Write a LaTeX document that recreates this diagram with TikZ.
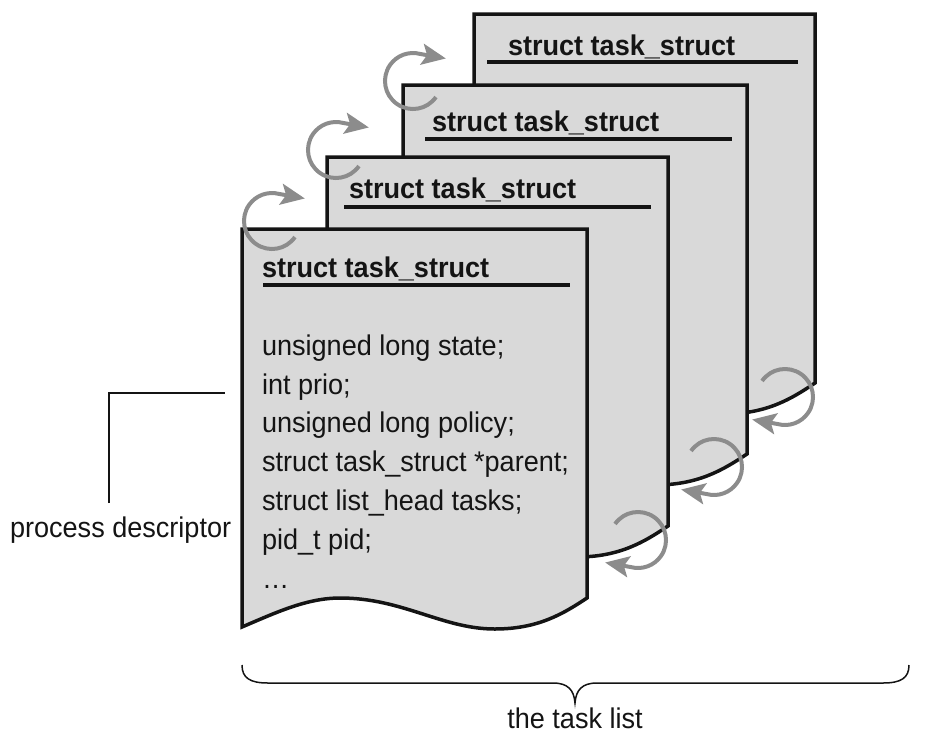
\documentclass[tikz,border=0pt]{standalone}
\usepackage{fontspec}
\setmainfont{Liberation Sans}[FakeStretch=0.95]
\usetikzlibrary{arrows.meta,calc}
\definecolor{pagefill}{HTML}{D9D9D9}
\definecolor{arrowgray}{HTML}{8C8C8C}
\definecolor{ink}{HTML}{141414}
\begin{document}
\begin{tikzpicture}[x=1pt,y=1pt,
  txt/.style={font=\fontsize{28.5}{34}\selectfont, inner sep=0pt, outer sep=0pt, text=ink, anchor=base west},
  ttl/.style={txt, font=\fontsize{28.5}{34}\selectfont\bfseries},
  pagebox/.style={draw=ink, fill=pagefill, line width=3.5pt},
  uline/.style={draw=ink, line width=3.5pt},
  cyc/.style={draw=arrowgray, line width=4pt, -{Stealth[length=24pt,width=21pt,inset=5pt]}},
  thinline/.style={draw=ink, line width=1.5pt}]
\useasboundingbox (0,0) rectangle (930,-740);

% pages, back to front
\foreach \n/\pL/\pT/\pW/\tX/\tY/\uA/\uB/\uY in {4/474/14/341/508/55/487/798/62, 3/403/85/344/432/131/425/732/139, 2/327/157/341/349/198/344/651/207, 1/242/229/345/262/277/263/570/285}{
  \pgfmathsetmacro{\sc}{\pW/344}
  \coordinate (tl\n) at (\pL,-\pT);
  \path[pagebox] (tl\n) -- ({\pL+\pW},-\pT) -- ({\pL+\pW},{-\pT-369})
     .. controls ({\pL+\sc*320},{-\pT-385}) and ({\pL+\sc*295},{-\pT-400}) .. ({\pL+\sc*252},{-\pT-400})
     .. controls ({\pL+\sc*200},{-\pT-400}) and ({\pL+\sc*160},{-\pT-369}) .. ({\pL+\sc*98},{-\pT-369})
     .. controls ({\pL+\sc*65},{-\pT-369}) and ({\pL+\sc*35},{-\pT-383}) .. (\pL,{-\pT-398}) -- cycle;
  \node[ttl] (title\n) at (\tX,-\tY) {struct task\_struct};
  \coordinate (ua\n) at (\uA,-\uY);
  \coordinate (ub\n) at (\uB,-\uY);
  \draw[uline] (ua\n) -- (ub\n);
}

% fields of the front descriptor
\node[txt] (f1) at (262,-355) {unsigned long state;};
\node[txt] (f2) at (262,-394) {int prio;};
\node[txt] (f3) at (262,-432) {unsigned long policy;};
\node[txt] (f4) at (262,-471) {struct task\_struct *parent;};
\node[txt] (f5) at (262,-510) {struct list\_head tasks;};
\node[txt] (f6) at (262,-549) {pid\_t pid;};
\node[txt] (f7) at (262,-588) {…};

% process descriptor label and leader
\node[txt] (pd) at (10,-537) {process descriptor};
\coordinate (pdbot) at (109,-503);
\coordinate (pdend) at (225,-393);
\draw[thinline] (pdbot) |- (pdend);

% brace
\coordinate (brL) at (242,-665);
\coordinate (brR) at (909,-665);
\coordinate (brTip) at (575,-703);
\draw[thinline] (brL) .. controls (242,-678) and (250,-683) .. (268,-683) -- (553,-683)
   .. controls (568,-683) and (574,-690) .. (brTip)
   .. controls (576,-690) and (582,-683) .. (597,-683) -- (883,-683)
   .. controls (901,-683) and (909,-678) .. (brR);
\node[txt, anchor=base] (tasklist) at (575,-728) {the task list};

% circular arrows, top left
\foreach \cx/\cy in {272/221, 336/150, 413/81}{
  \draw[cyc] ([shift={(-35:28pt)}]\cx,-\cy) arc[start angle=-35, end angle=-285, radius=28pt] -- ++(-10:26pt);
}
% circular arrows, bottom right
\foreach \cx/\cy in {785/397, 714/467, 638/540}{
  \draw[cyc] ([shift={(145:28pt)}]\cx,-\cy) arc[start angle=145, end angle=-105, radius=28pt] -- ++(170:26pt);
}
\end{tikzpicture}
\end{document}
